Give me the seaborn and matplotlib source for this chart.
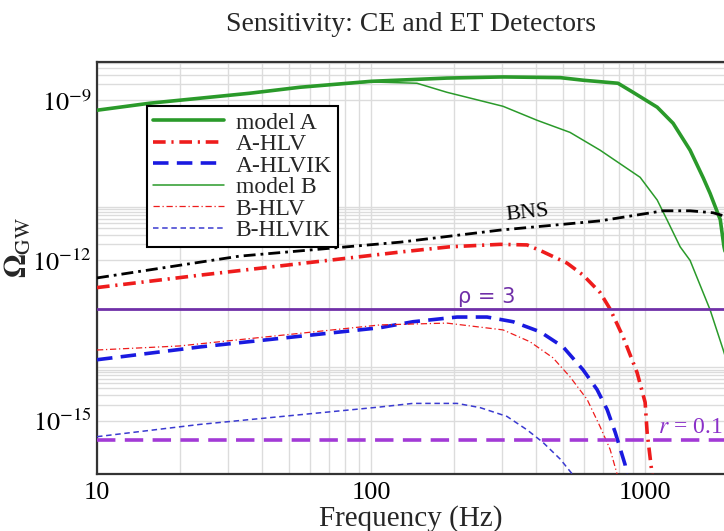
import numpy as np
import pandas as pd
import matplotlib
matplotlib.use("Agg")
import matplotlib.pyplot as plt
import seaborn as sns

# values (frequency in Hz, Omega_GW)
freq_model_a = [10, 15.6, 36, 55, 100, 189, 303, 490, 594, 796, 903, 1107, 1265, 1459, 1630, 1726, 1880, 1940, 2100]
omega_model_a = [6.5e-10, 8.8e-10, 1.35e-9, 1.75e-9, 2.26e-9, 2.6e-9, 2.73e-9, 2.65e-9, 2.37e-9, 2.08e-9,
                 1.41e-9, 7.4e-10, 3.7e-10, 1.16e-10, 3.5e-11, 1.8e-11, 5.8e-12, 1.8e-12, 3e-13]

freq_model_b = [10, 15.6, 36, 55, 100, 147, 189, 303, 404, 532, 685, 959, 1107, 1203, 1342, 1459, 1726, 1928, 2100]
omega_model_b = [6.5e-10, 8.8e-10, 1.35e-9, 1.75e-9, 2.2e-9, 2.08e-9, 1.41e-9, 7.7e-10, 4.2e-10, 2.5e-10,
                 1.16e-10, 3.6e-11, 1.35e-11, 5.7e-12, 1.8e-12, 1.0e-12, 1.19e-13, 2.1e-14, 5e-15]

freq_bns = [10, 33, 128, 296, 685, 1164, 1459, 1771, 1941, 2100]
omega_bns = [4.7e-13, 1.2e-12, 2.2e-12, 3.7e-12, 5.5e-12, 8.5e-12, 8.5e-12, 7.8e-12, 6.8e-12, 6e-12]

freq_a_hlv = [10, 23.8, 130, 194, 296, 371, 424, 519, 594, 685, 745, 831, 935, 1000, 1017, 1060, 1080]
omega_a_hlv = [3.1e-13, 5.3e-13, 1.45e-12, 1.8e-12, 2.0e-12, 1.95e-12, 1.45e-12, 8.9e-13, 5.3e-13, 2.5e-13,
               1.23e-13, 3.7e-14, 7.9e-15, 2.2e-15, 6e-16, 1e-16, 5e-17]

freq_a_hlvik = [10, 23.8, 108, 142, 206, 265, 330, 414, 502, 594, 668, 727, 778, 845, 870]
omega_a_hlvik = [1.38e-14, 2.4e-14, 5.5e-14, 7.1e-14, 8.7e-14, 8.7e-14, 7.1e-14, 4.6e-14, 2.4e-14, 8.9e-15,
                 3.8e-15, 1.6e-15, 6e-16, 1.5e-16, 5e-17]

freq_b_hlv = [10, 20, 108, 189, 303, 380, 461, 532, 614, 685, 745, 790, 800]
omega_b_hlv = [2.1e-14, 2.5e-14, 6.2e-14, 6.7e-14, 5e-14, 3e-14, 1.5e-14, 6.6e-15, 2.5e-15, 7.7e-16,
               2.9e-16, 1e-16, 6e-17]

freq_b_hlvik = [10, 23.8, 108, 142, 206, 250, 313, 371, 424, 490, 542, 560]
omega_b_hlvik = [5e-16, 8.5e-16, 1.8e-15, 2.1e-15, 2.1e-15, 1.75e-15, 1.2e-15, 6.7e-16, 3.9e-16, 1.9e-16,
                 1e-16, 6e-17]

rho3_level = 1.24e-13
r01_level = 4.4e-16

x_ticks = [10, 100, 1000]
x_tick_labels = ["10", "100", "1000"]
y_ticks = [1e-15, 1e-12, 1e-9]
y_tick_labels = [r"$10^{-15}$", r"$10^{-12}$", r"$10^{-9}$"]

sns.set_theme(style="white")
plt.rcParams["font.family"] = ["Liberation Serif", "DejaVu Serif"]
plt.rcParams["mathtext.fontset"] = "stix"

fig = plt.figure(figsize=(7.24, 5.31), dpi=100)
ax = fig.add_axes([97 / 724, 1 - 474 / 531, 627 / 724, 412 / 531])

green = "#2a9a2a"
red = "#ee1c1c"
blue = "#1a1ae0"
blue_thin = "#3a3ad0"

series = [
    ("model A", freq_model_a, omega_model_a, green, 2.6, "-"),
    ("A-HLV", freq_a_hlv, omega_a_hlv, red, 2.6, (0, (3.5, 1.6, 0.6, 1.6))),
    ("A-HLVIK", freq_a_hlvik, omega_a_hlvik, blue, 2.6, (0, (4.3, 2.3))),
    ("model B", freq_model_b, omega_model_b, green, 1.1, "-"),
    ("B-HLV", freq_b_hlv, omega_b_hlv, red, 0.9, (0, (5, 2.2, 1, 2.2))),
    ("B-HLVIK", freq_b_hlvik, omega_b_hlvik, blue_thin, 1.1, (0, (3.6, 2.4))),
]

handles = []
for name, f, om, col, lw, ls in series:
    df = pd.DataFrame({"f": f, "omega": om})
    sns.lineplot(data=df, x="f", y="omega", ax=ax, color=col, lw=lw, linestyle=ls,
                 sort=False, estimator=None, zorder=3)
    handles.append(plt.Line2D([], [], color=col, lw=lw, linestyle=ls, label=name))

bns_df = pd.DataFrame({"f": freq_bns, "omega": omega_bns})
sns.lineplot(data=bns_df, x="f", y="omega", ax=ax, color="black", lw=2.0,
             linestyle=(0, (4.3, 1.8, 1, 1.8)), sort=False, estimator=None, zorder=3)

ax.axhline(rho3_level, color="#7030a8", lw=2.0, zorder=3)
ax.axhline(r01_level, color="#a23ad6", lw=2.6, linestyle=(0, (5.1, 2.6)), zorder=3)

ax.set_xscale("log")
ax.set_yscale("log")

ax.set_xticks(x_ticks)
ax.set_xticklabels(x_tick_labels)
ax.set_xticks([k * 10 ** e for e in (1, 2, 3) for k in range(2, 10)], minor=True)
ax.set_yticks(y_ticks)
ax.set_yticklabels(y_tick_labels)
ax.set_yticks([k * 10.0 ** e for e in (-15, -12, -9) for k in range(2, 11)], minor=True)
ax.xaxis.set_minor_formatter(plt.NullFormatter())
ax.yaxis.set_minor_formatter(plt.NullFormatter())
# limits after the ticks, otherwise set_xticks widens the view
ax.set_xlim(10, 1940)
ax.set_ylim(1e-16, 5.2e-9)

ax.tick_params(which="both", length=0, labelsize=19, colors="black")
ax.tick_params(axis="x", pad=6)
ax.tick_params(axis="y", pad=4)
ax.grid(True, which="both", color="#dcdcdc", lw=1.0, zorder=0)

for side in ["left", "bottom", "top"]:
    ax.spines[side].set_color("#333333")
    ax.spines[side].set_linewidth(1.6)
ax.spines["right"].set_visible(False)

ax.text(265, 2.1e-13, r"ρ = 3", color="#7030a8", fontsize=15, family="DejaVu Sans",
        ha="center", va="center", zorder=4)
ax.text(371, 7.6e-12, "BNS", color="black", fontsize=16, ha="center", va="center",
        rotation=6, zorder=4)
ax.text(1114, 7.4e-16, r"$r$ = 0.1", color="#8a30c8", fontsize=17, ha="left", va="center", zorder=4)

ax.set_title("Sensitivity: CE and ET Detectors", fontsize=20, pad=22)
ax.set_xlabel("Frequency (Hz)", fontsize=21)
ax.xaxis.set_label_coords(0.5, -0.075)
ax.set_ylabel(r"$\mathbf{\Omega}_{\mathrm{GW}}$", fontsize=22)
ax.yaxis.set_label_coords(-0.1, 0.55)

leg = ax.legend(handles=handles, loc="upper left", bbox_to_anchor=(0.08, 0.893),
                borderaxespad=0, fontsize=17, handlelength=3.0, handletextpad=0.5,
                labelspacing=0.0, borderpad=0.25, frameon=True, fancybox=False)
leg.get_frame().set_edgecolor("black")
leg.get_frame().set_linewidth(1.5)
leg.get_frame().set_facecolor("white")
leg.get_frame().set_alpha(1)
leg.set_zorder(5)

fig.savefig("out.png", dpi=100)
